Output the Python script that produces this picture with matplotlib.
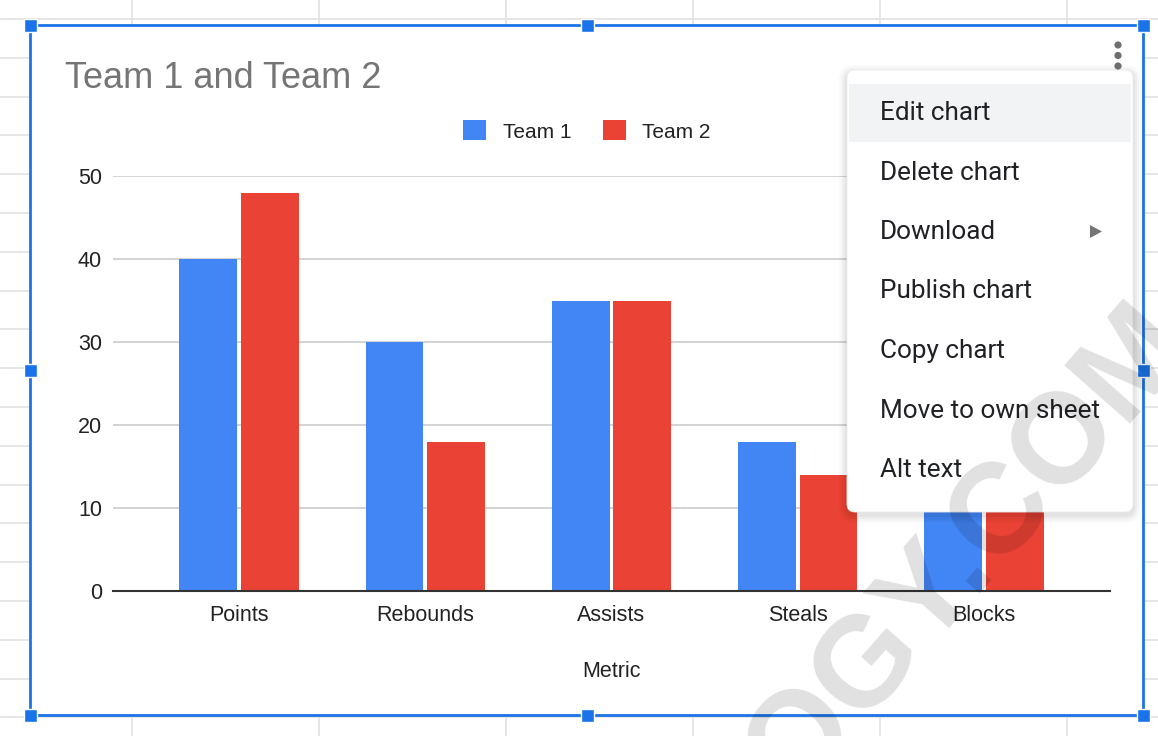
import matplotlib
matplotlib.use("Agg")
import matplotlib.pyplot as plt
from matplotlib.patches import Rectangle, FancyBboxPatch, Circle, Polygon

# chart data
metrics = ["Points", "Rebounds", "Assists", "Steals", "Blocks"]
team1 = [40, 30, 35, 18, 14]
team2 = [48, 18, 35, 14, 12]
series_names = ["Team 1", "Team 2"]
yticks = [0, 10, 20, 30, 40, 50]
menu_items = ["Edit chart", "Delete chart", "Download", "Publish chart",
              "Copy chart", "Move to own sheet", "Alt text"]

BLUE = "#4285f4"
RED = "#ea4335"
FRAME = "#1a73e8"
W, H = 1158, 736

plt.rcParams['font.family'] = ['Liberation Sans', 'DejaVu Sans']

fig = plt.figure(figsize=(W / 100, H / 100), dpi=100)

# spreadsheet background, pixel coords
bg = fig.add_axes([0, 0, 1, 1], zorder=0)
bg.set_xlim(0, W)
bg.set_ylim(H, 0)
bg.axis("off")
for x in [132, 319, 506, 693, 880, 1067]:
    bg.plot([x, x], [0, H], color="#e2e2e2", lw=1.2)
for k in range(20):
    y = 19 + 38.8 * k
    bg.plot([0, W], [y, y], color="#e2e2e2", lw=1.2)
bg.add_patch(Rectangle((30, 25), 1113, 690, facecolor="white",
                       edgecolor=FRAME, lw=2, zorder=2))
for hx, hy in [(30, 25), (587, 25), (1143, 25), (30, 370), (1143, 370),
               (30, 715), (587, 715), (1143, 715)]:
    bg.add_patch(Rectangle((hx - 6.5, hy - 6.5), 13, 13, facecolor=FRAME,
                           edgecolor="white", lw=1, zorder=3))

bg.text(65, 78, "Team 1 and Team 2", fontsize=26, color="#757575",
        va="center", ha="left", zorder=4)

# the chart itself
ax = fig.add_axes([113 / W, (H - 591) / H, 997 / W, 415 / H], zorder=1)
ax.patch.set_alpha(0)
xs = list(range(len(metrics)))
b1 = ax.bar([x - 0.165 for x in xs], team1, width=0.31, color=BLUE,
            label=series_names[0], zorder=2)
b2 = ax.bar([x + 0.165 for x in xs], team2, width=0.31, color=RED,
            label=series_names[1], zorder=2)
ax.set_xlim(-0.6765, 4.6765)
ax.set_ylim(0, 50)
ax.set_yticks(yticks)
ax.set_xticks(xs)
ax.set_xticklabels(metrics)
ax.tick_params(length=0, labelsize=15.5, labelcolor="#222222")
ax.tick_params(axis="y", pad=8)
ax.tick_params(axis="x", pad=10)
ax.yaxis.grid(True, color="#cccccc", lw=1.2, zorder=0)
for s in ["top", "right", "left"]:
    ax.spines[s].set_visible(False)
ax.spines["bottom"].set_color("#333333")
ax.spines["bottom"].set_linewidth(1.5)
ax.spines["bottom"].set_zorder(3)
ax.set_xlabel("Metric", fontsize=15.5, color="#222222", labelpad=25)
leg = ax.legend(handles=[b1, b2], loc="center",
                bbox_to_anchor=(474 / 997, (591 - 131) / 415), ncol=2,
                frameon=False, fontsize=15, handlelength=1.1, handleheight=1.1,
                handletextpad=0.8, columnspacing=1.5)
for t in leg.get_texts():
    t.set_color("#222222")

# context menu overlay
ov = fig.add_axes([0, 0, 1, 1], zorder=2)
ov.set_xlim(0, W)
ov.set_ylim(H, 0)
ov.axis("off")
ov.patch.set_alpha(0)
for i, a in enumerate([0.02, 0.025, 0.03, 0.035]):
    g = 8 - 2 * i
    ov.add_patch(FancyBboxPatch((847 - g, 70 - g + 3), 286 + 2 * g, 442 + 2 * g,
                                boxstyle="round,pad=0,rounding_size=%d" % (8 + g),
                                facecolor="black", edgecolor="none", alpha=a))
ov.add_patch(FancyBboxPatch((847, 70), 286, 442,
                            boxstyle="round,pad=0,rounding_size=8",
                            facecolor="white", edgecolor="#ececec", lw=0.6))
ov.add_patch(Rectangle((849, 84), 282, 58, facecolor="#f1f3f4", edgecolor="none"))
for i, item in enumerate(menu_items):
    ov.text(880, 113 + 59.5 * i, item, fontsize=18.8, family="Roboto",
            color="#202124", va="center", ha="left")
ov.add_patch(Polygon([(1090, 225), (1090, 238), (1102, 231.5)],
                     facecolor="#757575", edgecolor="none"))
for dy in [45, 55.5, 66]:
    ov.add_patch(Circle((1118, dy), 3.6, facecolor="#6f6f6f", edgecolor="none"))

# watermark
ov.text(1195, 347, "STATOLOGY.COM", fontsize=92, fontweight="bold",
        family="Liberation Sans", color="black", alpha=0.12, rotation=48.5,
        rotation_mode="anchor", ha="right", va="baseline", zorder=50)

fig.savefig("out.png", dpi=100)
